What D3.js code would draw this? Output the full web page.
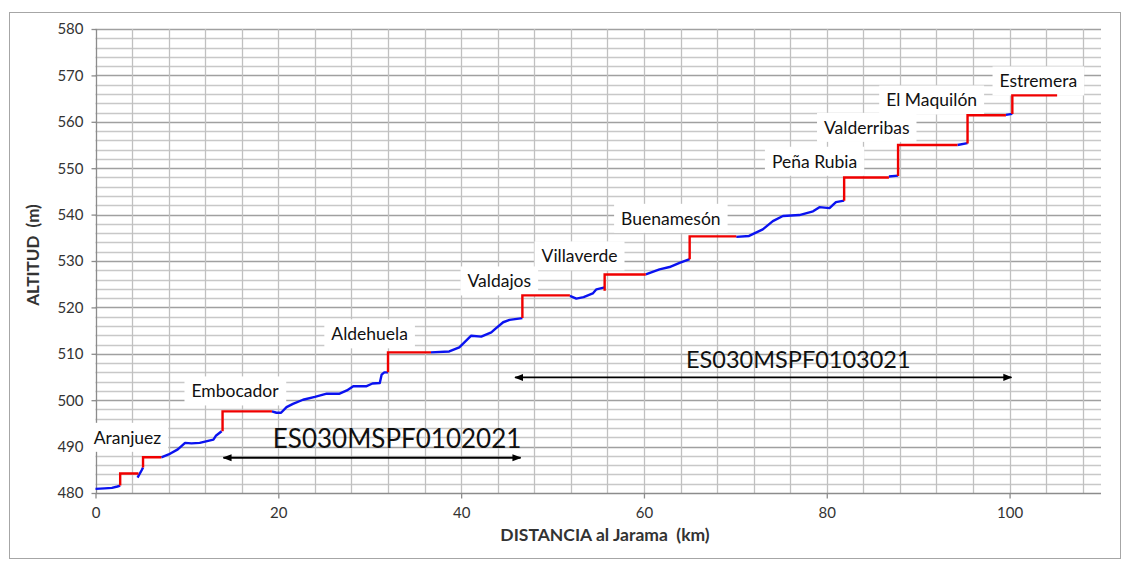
<!DOCTYPE html>
<html>
<head>
<meta charset="utf-8">
<script src="https://cdn.jsdelivr.net/npm/d3@7"></script>
<style>
  html, body { margin: 0; padding: 0; background: #fff; }
  svg { display: block; font-family: Lato, "Open Sans", sans-serif; }
  text { white-space: pre; }
</style>
</head>
<body>
<svg id="chart" width="1123" height="562"></svg>
<script>
// ---------- DATA ----------
// River profile (blue), null separates stretches covered by reservoirs
const riverKm  = [0, 1.0, 1.8, 2.4, 2.7, null,
                  4.6, 5.05, 5.2, null,
                  7.2, 8.0, 9.0, 9.8, 10.5, 11.4, 12.9, 13.2, 13.8, null,
                  19.3, 19.8, 20.3, 20.9, 21.6, 22.7, 24.0, 25.3, 26.7, 27.5, 28.2, 29.6, 30.3, 31.1, 31.3, 31.6, 32.0, null,
                  36.7, 38.7, 39.8, 41.1, 42.2, 43.3, 43.7, 44.6, 45.3, 46.7, null,
                  51.9, 52.6, 53.4, 54.4, 54.8, 55.7, null,
                  60.2, 61.7, 62.8, 63.9, 65.0, null,
                  70.1, 71.5, 73.0, 74.1, 75.2, 77.0, 78.5, 79.2, 80.3, 81.0, 81.9, null,
                  86.8, 87.8, null,
                  94.3, 95.4, null,
                  99.6, 100.3];
const riverAlt = [480.9, 481.0, 481.1, 481.4, 481.6, null,
                  483.3, 484.9, 485.5, null,
                  487.7, 488.3, 489.4, 490.8, 490.7, 490.8, 491.5, 492.4, 493.3, null,
                  497.6, 497.3, 497.3, 498.5, 499.2, 500.1, 500.7, 501.4, 501.4, 502.1, 503.0, 503.0, 503.6, 503.7, 505.5, 506.0, 506.0, null,
                  510.3, 510.5, 511.4, 513.9, 513.7, 514.6, 515.3, 516.8, 517.3, 517.7, null,
                  522.5, 521.9, 522.2, 523.0, 523.9, 524.3, null,
                  527.1, 528.2, 528.7, 529.6, 530.4, null,
                  535.2, 535.4, 536.8, 538.6, 539.7, 539.9, 540.7, 541.6, 541.4, 542.7, 543.0, null,
                  548.2, 548.4, null,
                  555.0, 555.4, null,
                  561.5, 561.7];

// Weirs (red): position, level below, impounded level, end of pool
const weirKm   = [2.7, 5.2, 13.9, 32.0, 46.7, 55.7, 65.0, 81.9, 87.8, 95.4, 100.3];
const weirLow  = [481.6, 485.5, 493.3, 506.0, 517.7, 523.6, 530.4, 543.0, 548.3, 555.3, 561.7];
const weirHigh = [484.2, 487.7, 497.6, 510.3, 522.6, 527.1, 535.3, 548.0, 555.0, 561.4, 565.7];
const poolEnd  = [4.7, 7.2, 19.3, 36.7, 51.9, 60.2, 70.1, 86.8, 94.3, 99.6, 105.2];

// Station labels (anchored in data units: left edge km, centre altitude)
const stationNames = ["Aranjuez", "Embocador", "Aldehuela", "Valdajos", "Villaverde",
                      "Buenamesón", "Peña Rubia", "Valderribas", "El Maquilón", "Estremera"];
const stationKm  = [-0.2, 10.5, 25.8, 40.7, 48.8, 57.5, 74.0, 79.7, 86.5, 98.9];
const stationAlt = [492.0, 502.0, 514.3, 525.7, 531.1, 539.2, 551.5, 558.8, 564.7, 568.8];

// Water body spans (double arrows)
const bodyNames = ["ES030MSPF0102021", "ES030MSPF0103021"];
const bodyFrom  = [14.0, 45.9];
const bodyTo    = [46.5, 100.2];
const bodyAlt   = [487.6, 504.9];
const bodyTextKm  = [19.4, 64.6];
const bodyTextAlt = [491.8, 508.8];

const xTicks = [0, 20, 40, 60, 80, 100];
const yTicks = [480, 490, 500, 510, 520, 530, 540, 550, 560, 570, 580];

// ---------- CHART ----------
const svg = d3.select("#chart");
const L = 95.5, R = 1101, T = 29, B = 493;
const x = d3.scaleLinear().domain([0, 110]).range([L, R]);
const y = d3.scaleLinear().domain([480, 580]).range([B, T]);

// outer frame
svg.append("rect").attr("x", 9.5).attr("y", 12.5).attr("width", 1111).attr("height", 546)
  .attr("fill", "#fff").attr("stroke", "#a6a6a6").attr("stroke-width", 1);

const grid = svg.append("g");
grid.selectAll("line.h").data(d3.range(482, 581, 2)).join("line")
  .attr("x1", L).attr("x2", R)
  .attr("y1", d => Math.round(y(d)) + 0.5).attr("y2", d => Math.round(y(d)) + 0.5)
  .attr("stroke", d => d % 10 === 0 ? "#a0a0a0" : "#c8c8c8").attr("stroke-width", 1.3);
grid.selectAll("line.v").data(d3.range(4, 110, 4)).join("line")
  .attr("y1", T).attr("y2", B)
  .attr("x1", d => Math.round(x(d)) + 0.5).attr("x2", d => Math.round(x(d)) + 0.5)
  .attr("stroke", "#c0c0c0").attr("stroke-width", 1.3);

// axes
const xAxis = d3.axisBottom(x).tickValues(xTicks).tickSize(5).tickPadding(9).tickFormat(d3.format("d"));
const yAxis = d3.axisLeft(y).tickValues(yTicks).tickSize(5).tickPadding(8).tickFormat(d3.format("d"));
const gx = svg.append("g").attr("transform", `translate(0,${Math.round(B) + 0.5})`).call(xAxis);
const gy = svg.append("g").attr("transform", `translate(${Math.round(L) + 0.5},0)`).call(yAxis);
[gx, gy].forEach(g => {
  g.select(".domain").attr("stroke", "#8c8c8c").attr("stroke-width", 1.3);
  g.selectAll(".tick line").attr("stroke", "#8c8c8c").attr("stroke-width", 1.3);
  g.selectAll(".tick text").attr("fill", "#333").style("font-size", "15px")
    .style("font-family", "Lato, 'Open Sans', sans-serif");
});
gx.select(".domain").attr("d", `M${L},0H${R}`);
gy.select(".domain").attr("d", `M0,${B}V${T}`);

// axis titles
svg.append("text").attr("transform", `translate(39,${(T + B) / 2 - 6}) rotate(-90)`)
  .attr("text-anchor", "middle").attr("font-weight", "bold").attr("font-size", 17).attr("fill", "#333")
  .text("ALTITUD  (m)");
svg.append("text").attr("x", 605).attr("y", 541)
  .attr("text-anchor", "middle").attr("font-weight", "bold").attr("font-size", 17.5).attr("fill", "#333")
  .text("DISTANCIA al Jarama  (km)");

// station labels with white boxes
const lab = svg.append("g");
stationNames.forEach((name, i) => {
  const g = lab.append("g");
  const t = g.append("text").attr("x", x(stationKm[i])).attr("y", y(stationAlt[i]))
    .attr("dominant-baseline", "central").attr("font-size", 17.5).attr("fill", "#111").text(name);
  const bb = t.node().getBBox();
  g.insert("rect", "text").attr("x", bb.x - 7).attr("y", bb.y - 4)
    .attr("width", bb.width + 14).attr("height", bb.height + 8).attr("fill", "#fff");
});

// river profile (blue)
const line = d3.line().defined(d => d[0] !== null).x(d => x(d[0])).y(d => y(d[1]));
const riverPts = riverKm.map((k, i) => [k, riverAlt[i]]);
svg.append("path").datum(riverPts).attr("d", line)
  .attr("fill", "none").attr("stroke", "#0a12f0").attr("stroke-width", 2.4)
  .attr("stroke-linejoin", "round");

// weirs and pools (red)
svg.append("g").selectAll("path").data(weirKm.map((k, i) => i)).join("path")
  .attr("d", i => `M${x(weirKm[i])},${y(weirLow[i])}V${y(weirHigh[i])}H${x(poolEnd[i])}`)
  .attr("fill", "none").attr("stroke", "#f00000").attr("stroke-width", 2.4);

// double arrows
const defs = svg.append("defs");
defs.append("marker").attr("id", "ah").attr("viewBox", "0 0 10 10").attr("refX", 9).attr("refY", 5)
  .attr("markerWidth", 5).attr("markerHeight", 5).attr("orient", "auto-start-reverse")
  .append("path").attr("d", "M0,1L10,5L0,9Z").attr("fill", "#000");
bodyNames.forEach((name, i) => {
  svg.append("line").attr("x1", x(bodyFrom[i])).attr("x2", x(bodyTo[i]))
    .attr("y1", y(bodyAlt[i])).attr("y2", y(bodyAlt[i]))
    .attr("stroke", "#000").attr("stroke-width", 1.8)
    .attr("marker-start", "url(#ah)").attr("marker-end", "url(#ah)");
  svg.append("text").attr("x", x(bodyTextKm[i])).attr("y", y(bodyTextAlt[i]))
    .attr("dominant-baseline", "central").attr("font-size", i === 0 ? 26 : 23.5).attr("fill", "#111")
    .text(name);
});
</script>
</body>
</html>
